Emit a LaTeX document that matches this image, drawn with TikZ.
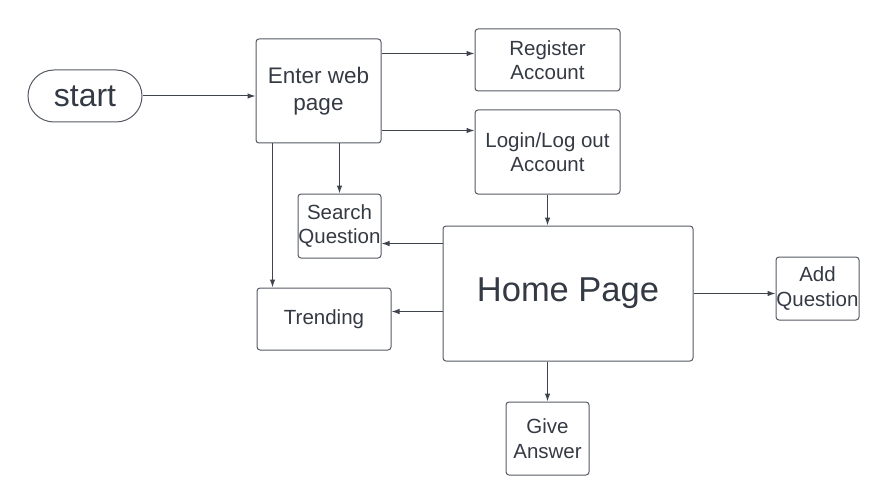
\documentclass[tikz,border=0pt]{standalone}
\usepackage{fontspec}
\setmainfont{Liberation Sans}
\usetikzlibrary{arrows.meta,calc}
\definecolor{ln}{RGB}{62,67,77}
\definecolor{bx}{RGB}{85,90,100}
\definecolor{tx}{RGB}{52,58,68}
\tikzset{
  box/.style={draw=bx, line width=1pt, rounded corners=3pt, inner sep=0pt, align=center, text=tx, font=\fontsize{20.5}{24.6}\selectfont},
  arr/.style={draw=ln, line width=1pt, -{Latex[length=8pt,width=5.5pt]}}
}
\begin{document}
\begin{tikzpicture}[x=1pt,y=-1pt]
\useasboundingbox (0,0) rectangle (882,497);
\node[box, minimum width=114pt, minimum height=52pt, rounded corners=26pt, font=\fontsize{32}{38}\selectfont] (start) at (85,96) {start};
\node[box, minimum width=125pt, minimum height=104pt, font=\fontsize{22.5}{27}\selectfont] (enter) at (318.5,91) {Enter web\\page};
\node[box, minimum width=145pt, minimum height=62pt] (register) at (547.5,60) {Register\\Account};
\node[box, minimum width=145pt, minimum height=84pt] (login) at (547.5,152) {Login/Log out\\Account};
\node[box, minimum width=83pt, minimum height=64pt] (search) at (339.5,226) {Search\\Question};
\node[box, minimum width=250pt, minimum height=135pt, font=\fontsize{34.5}{41}\selectfont] (home) at (568,293.5) {Home Page};
\node[box, minimum width=134pt, minimum height=62pt] (trending) at (324,319) {Trending};
\node[box, minimum width=83pt, minimum height=73pt] (give) at (547.5,438.5) {Give\\Answer};
\node[box, minimum width=83pt, minimum height=63pt] (add) at (817.5,288.5) {Add\\Question};
\coordinate (e1) at ($(enter.north east)+(0,15)$);
\coordinate (e2) at ($(enter.south east)+(0,-13)$);
\coordinate (e3) at ($(enter.south west)+(17,0)$);
\coordinate (h1) at ($(home.north west)+(0,18)$);
\coordinate (h2) at ($(home.north west)+(0,86)$);
\draw[arr] (start.east) -- (start.east -| enter.west);
\draw[arr] (e1) -- (e1 -| register.west);
\draw[arr] (e2) -- (e2 -| login.west);
\draw[arr] (enter.south -| search.north) -- (search.north);
\draw[arr] (e3) -- (e3 |- trending.north);
\draw[arr] (login.south) -- (login.south |- home.north);
\draw[arr] (h1) -- (h1 -| search.east);
\draw[arr] (h2) -- (h2 -| trending.east);
\draw[arr] (give.north |- home.south) -- (give.north);
\draw[arr] (home.east) -- (home.east -| add.west);
\end{tikzpicture}
\end{document}
